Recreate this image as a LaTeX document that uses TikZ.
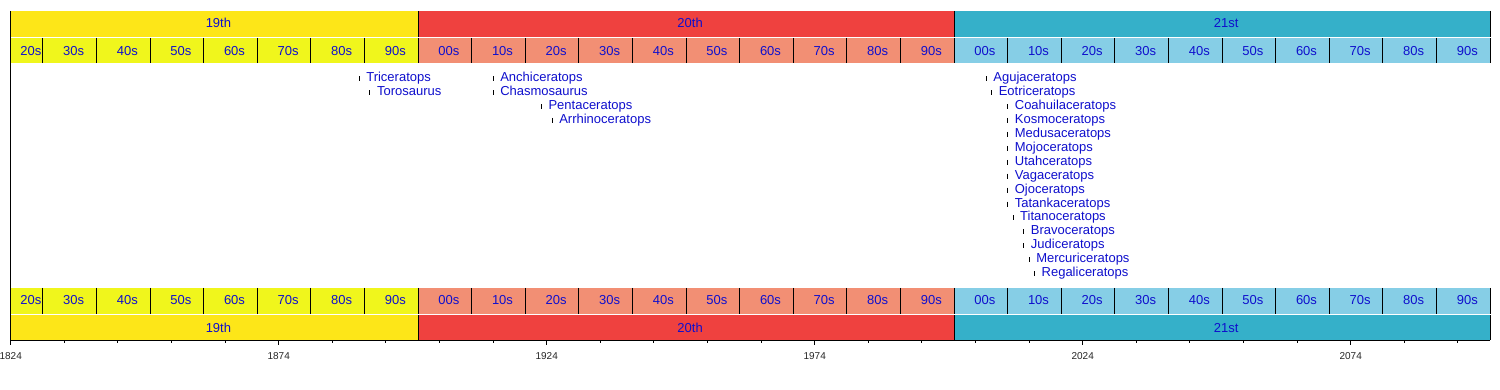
\documentclass[tikz,border=0pt]{standalone}
\usepackage{fontspec}
\setmainfont{Liberation Sans}
\definecolor{cenA}{RGB}{253,230,24}
\definecolor{decA}{RGB}{240,246,28}
\definecolor{cenB}{RGB}{239,65,63}
\definecolor{decB}{RGB}{242,143,116}
\definecolor{cenC}{RGB}{53,176,201}
\definecolor{decC}{RGB}{134,206,230}
\definecolor{txtblue}{RGB}{15,15,205}
\tikzset{
  lbl/.style={font=\fontsize{13}{15}\selectfont, text=txtblue, inner sep=0pt, anchor=base},
  entry/.style={lbl, anchor=base west},
  yrlbl/.style={font=\fontsize{10}{12}\selectfont, text=black!85, inner sep=0pt, anchor=base},
  sepline/.style={draw=black, line width=1pt},
  emark/.style={draw=black, line width=0.9pt},
  axisline/.style={draw=black, line width=1pt},
}
\begin{document}
\begin{tikzpicture}[x=1pt,y=-1pt]
\useasboundingbox (0,0) rectangle (1500,390);
\fill[white] (0,0) rectangle (1500,390);
\begin{scope}[x=5.36pt, xshift=-9765.94pt]
  % century fills
  \foreach \s/\e/\c in {1824/1900/cenA, 1900/2000/cenB, 2000/2100/cenC} {
    \fill[\c] (\s,11) rectangle (\e,37);
    \fill[\c] (\s,315) rectangle (\e,340.3);
  }
  % decade fills
  \foreach \s/\e/\c in {
    1824/1900/decA, 1900/2000/decB, 2000/2100/decC} {
    \fill[\c] (\s,38) rectangle (\e,63.3);
    \fill[\c] (\s,288) rectangle (\e,314);
  }
  % century separators
  \foreach \e in {1900,2000,2100} {
    \draw[sepline] (\e,11) -- (\e,37);
    \draw[sepline] (\e,315) -- (\e,340.3);
  }
  % decade separators
  \foreach \e in {1830,1840,...,2100} {
    \draw[sepline] (\e,38) -- (\e,63.3);
    \draw[sepline] (\e,288) -- (\e,314);
  }
  % century labels
  \foreach \s/\e/\l in {1824/1900/19th, 1900/2000/20th, 2000/2100/21st} {
    \pgfmathsetmacro\m{(\s+\e)/2+0.75}
    \node[lbl] (ct-\l) at (\m,28) {\l};
    \node[lbl] (cb-\l) at (\m,332.3) {\l};
  }
  % decade labels
  \foreach \s/\e/\l in {
    1824/1830/20s, 1830/1840/30s, 1840/1850/40s, 1850/1860/50s,
    1860/1870/60s, 1870/1880/70s, 1880/1890/80s, 1890/1900/90s,
    1900/1910/00s, 1910/1920/10s, 1920/1930/20s, 1930/1940/30s,
    1940/1950/40s, 1950/1960/50s, 1960/1970/60s, 1970/1980/70s,
    1980/1990/80s, 1990/2000/90s,
    2000/2010/00s, 2010/2020/10s, 2020/2030/20s, 2030/2040/30s,
    2040/2050/40s, 2050/2060/50s, 2060/2070/60s, 2070/2080/70s,
    2080/2090/80s, 2090/2100/90s} {
    \pgfmathsetmacro\m{(\s+\e)/2+0.75}
    \node[lbl] (dt-\s) at (\m,55.3) {\l};
    \node[lbl] (db-\s) at (\m,304.3) {\l};
  }
  % axes
  \draw[axisline] (1824,11) -- (1824,340.3) -- (2100,340.3);
  \foreach \y in {1834,1844,...,2094} {
    \draw[axisline] (\y,340.3) -- (\y,342.8);
  }
  \foreach \y in {1824,1874,...,2074} {
    \draw[axisline] (\y,340.3) -- (\y,345.3);
    \node[yrlbl] (yr-\y) at (\y,359) {\y};
  }
  % entries
  \foreach \y/\r/\n in {1889/0/Triceratops, 1891/1/Torosaurus, 1914/0/Anchiceratops,
    1914/1/Chasmosaurus, 1923/2/Pentaceratops, 1925/3/Arrhinoceratops,
    2006/0/Agujaceratops, 2007/1/Eotriceratops, 2010/2/Coahuilaceratops,
    2010/3/Kosmoceratops, 2010/4/Medusaceratops, 2010/5/Mojoceratops,
    2010/6/Utahceratops, 2010/7/Vagaceratops, 2010/8/Ojoceratops,
    2010/9/Tatankaceratops, 2011/10/Titanoceratops, 2013/11/Bravoceratops,
    2013/12/Judiceratops, 2014/13/Mercuriceratops, 2015/14/Regaliceratops} {
    \pgfmathsetmacro\b{81.7+13.93*\r}
    \draw[emark] (\y,\b-5.5) -- (\y,\b-0.5);
    \node[entry, xshift=7pt] (e-\n) at (\y,\b) {\n};
  }
\end{scope}
\end{tikzpicture}
\end{document}
